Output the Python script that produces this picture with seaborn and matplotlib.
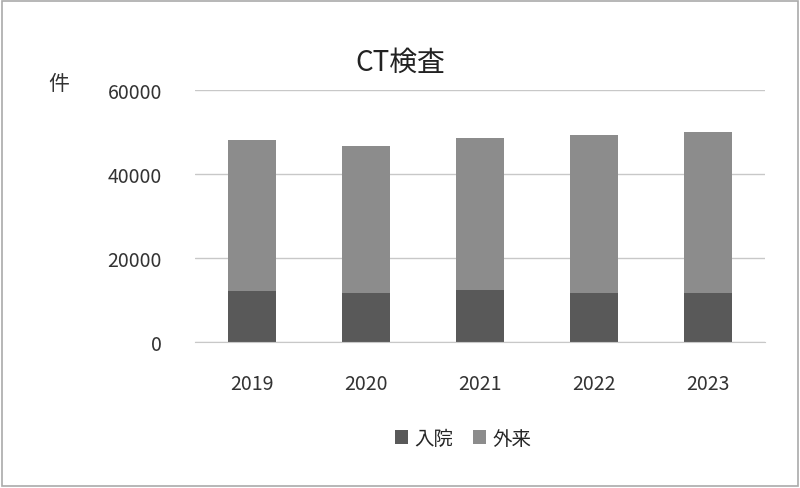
import pandas as pd
import seaborn as sns
import matplotlib.pyplot as plt
from matplotlib.patches import Rectangle

years = ['2019', '2020', '2021', '2022', '2023']
inpatient = [12200, 11800, 12400, 11800, 11800]
outpatient = [35900, 34800, 36100, 37600, 38300]

sns.set_style('white')
plt.rcParams['font.family'] = ['Noto Sans CJK JP', 'DejaVu Sans']

df = pd.DataFrame({'year': years, 'in': inpatient, 'out': outpatient})
df['total'] = df['in'] + df['out']

fig = plt.figure(figsize=(8, 4.89), dpi=100)
ax = fig.add_axes([0.244, 0.298, 0.712, 0.516])

sns.barplot(data=df, x='year', y='total', color='#8c8c8c', width=0.42, ax=ax,
            label='外来', linewidth=0)
sns.barplot(data=df, x='year', y='in', color='#595959', width=0.42, ax=ax,
            label='入院', linewidth=0)

ax.set_ylim(0, 60000)
ax.set_yticks([0, 20000, 40000, 60000])
ax.yaxis.grid(True, color='#c8c8c8', linewidth=1)
ax.set_axisbelow(True)
for s in ['top', 'right', 'left']:
    ax.spines[s].set_visible(False)
ax.spines['bottom'].set_color('#c8c8c8')
ax.set_xlabel('')
ax.set_ylabel('')
ax.tick_params(axis='both', labelsize=14, colors='#333333', length=0)
ax.tick_params(axis='x', pad=22)
ax.tick_params(axis='y', pad=24)

fig.text(0.5, 0.855, 'CT検査', ha='center', fontsize=20, color='#222222')
fig.text(0.06, 0.815, '件', fontsize=15, color='#333333')

h, l = ax.get_legend_handles_labels()
ax.legend(h[::-1], l[::-1], loc='upper center', bbox_to_anchor=(0.47, -0.27), ncol=2,
          frameon=False, fontsize=14, handlelength=0.7, handleheight=0.7,
          handletextpad=0.3, columnspacing=1.0)

fig.patches.append(Rectangle((0.003, 0.004), 0.994, 0.992, transform=fig.transFigure,
                             fill=False, edgecolor='#aaaaaa', linewidth=1.2))
fig.savefig('out.png', dpi=100)
